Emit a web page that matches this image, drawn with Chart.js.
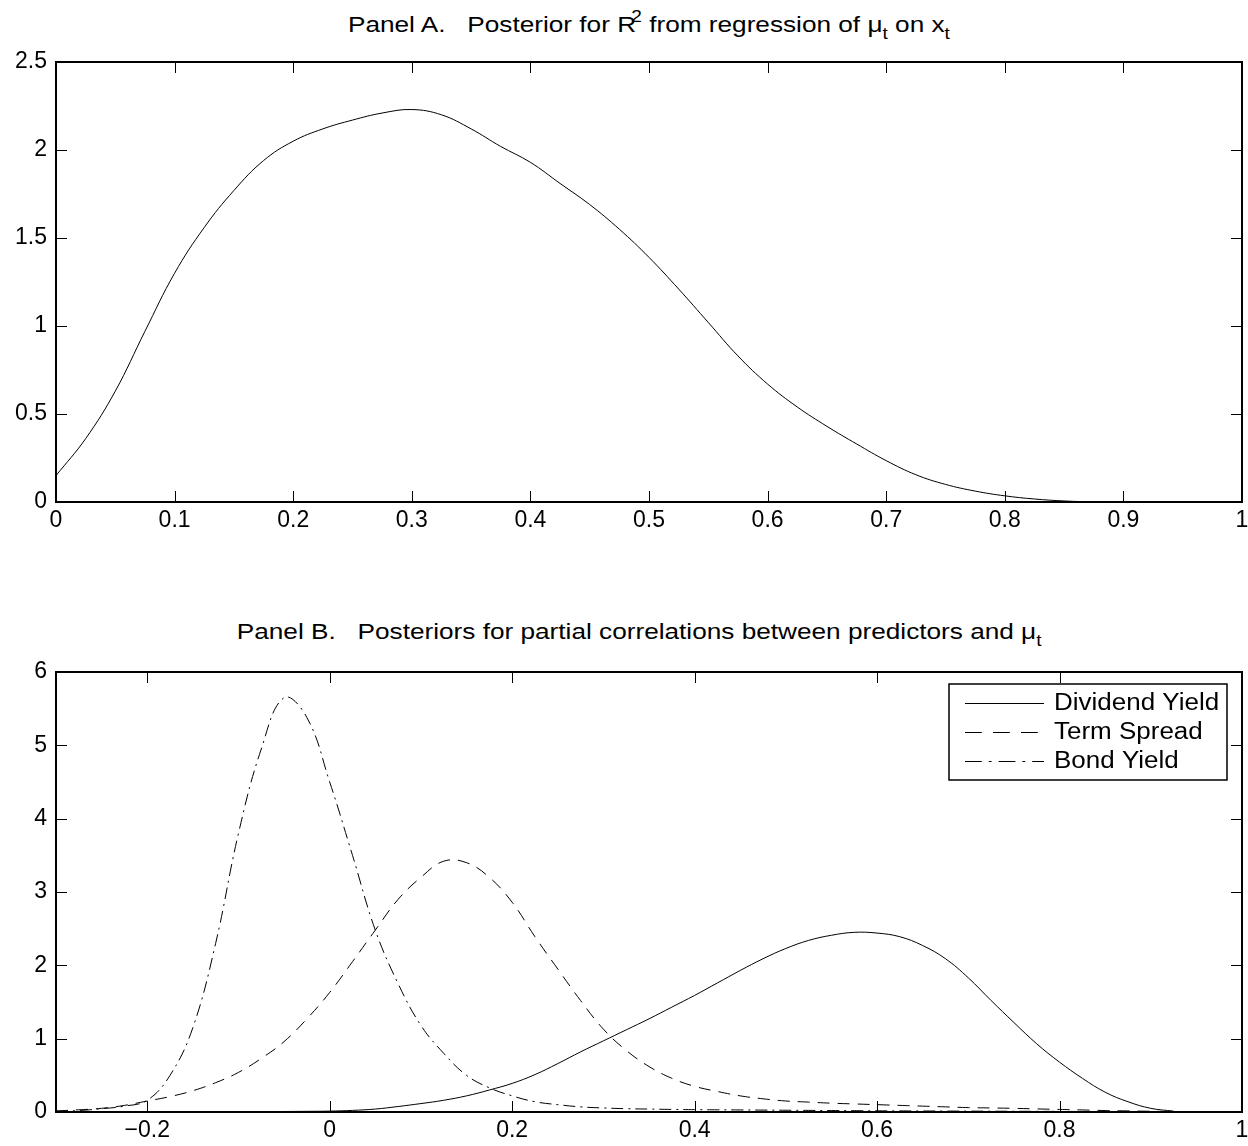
<!DOCTYPE html>
<html>
<head>
<meta charset="utf-8">
<script src="https://cdn.jsdelivr.net/npm/chart.js@4.4.1/dist/chart.umd.min.js"></script>
<style>
  body { margin:0; background:#fff; }
  #page { position:relative; width:1248px; height:1146px; font-family:"Liberation Sans", Arial, sans-serif; color:#000; }
  .title { position:absolute; left:56px; width:1186px; text-align:center; font-size:22px; line-height:22px; white-space:pre; }
  .title .inner { display:inline-block; transform:scaleX(1.19); }
  .title sup { font-size:16px; position:relative; top:-10px; vertical-align:baseline; margin-left:-4px; }
  .title sub { font-size:16px; position:relative; top:7px; vertical-align:baseline; }
  canvas { position:absolute; left:0; }
</style>
</head>
<body>
<div id="page">
  <div class="title" style="top:14px"><span class="inner">Panel A.   Posterior for R<sup>2</sup> from regression of μ<sub>t</sub> on x<sub>t</sub></span></div>
  <canvas id="chartA" width="1248" height="545" style="top:0"></canvas>
  <div class="title" style="top:621px; left:46px"><span class="inner">Panel B.   Posteriors for partial correlations between predictors and μ<sub>t</sub></span></div>
  <canvas id="chartB" width="1248" height="546" style="top:600px"></canvas>
</div>
<script>
// ---------------- Data ----------------
// Panel A: posterior density of R^2
const r2Grid = [0, 0.025, 0.05, 0.075, 0.1, 0.125, 0.15, 0.175, 0.2, 0.225, 0.25, 0.275,
  0.3, 0.325, 0.35, 0.375, 0.4, 0.425, 0.45, 0.475, 0.5, 0.525, 0.55, 0.575,
  0.6, 0.625, 0.65, 0.675, 0.7, 0.725, 0.75, 0.775, 0.8, 0.825, 0.85, 0.875];
const r2Density = [0.15, 0.36, 0.63, 0.97, 1.30, 1.56, 1.77, 1.94, 2.05, 2.12, 2.17, 2.21,
  2.23, 2.20, 2.12, 2.02, 1.93, 1.81, 1.69, 1.55, 1.39, 1.21, 1.02, 0.83,
  0.67, 0.54, 0.43, 0.33, 0.235, 0.155, 0.10, 0.062, 0.035, 0.017, 0.006, 0.0];

// Panel B: posteriors for partial correlations
const corrGrid = [-0.3, -0.275, -0.25, -0.225, -0.2, -0.175, -0.15, -0.125, -0.1, -0.075,
  -0.05, -0.025, 0, 0.025, 0.05, 0.075, 0.1, 0.125, 0.15, 0.175,
  0.2, 0.225, 0.25, 0.275, 0.3, 0.325, 0.35, 0.375, 0.4, 0.425,
  0.45, 0.475, 0.5, 0.525, 0.55, 0.575, 0.6, 0.625, 0.65, 0.675,
  0.7, 0.725, 0.75, 0.775, 0.8, 0.825, 0.85, 0.875, 0.9, 0.925];
const dividendYield = [0, 0, 0, 0.001, 0.001, 0.002, 0.002, 0.003, 0.004, 0.005,
  0.007, 0.009, 0.012, 0.022, 0.04, 0.075, 0.115, 0.16, 0.22, 0.30,
  0.39, 0.51, 0.66, 0.82, 0.97, 1.12, 1.27, 1.43, 1.59, 1.76,
  1.93, 2.09, 2.23, 2.34, 2.41, 2.45, 2.44, 2.39, 2.27, 2.09,
  1.83, 1.52, 1.22, 0.93, 0.68, 0.46, 0.27, 0.14, 0.05, 0.012];
const termSpread = [0.015, 0.03, 0.05, 0.09, 0.15, 0.21, 0.29, 0.40, 0.54, 0.73,
  0.96, 1.27, 1.63, 2.05, 2.48, 2.90, 3.20, 3.42, 3.40, 3.20,
  2.86, 2.39, 1.95, 1.52, 1.13, 0.84, 0.62, 0.46, 0.35, 0.28,
  0.22, 0.18, 0.15, 0.135, 0.12, 0.11, 0.10, 0.09, 0.08, 0.07,
  0.06, 0.055, 0.05, 0.042, 0.035, 0.028, 0.02, 0.015, 0.01, 0.005];
const bondYield = [0.01, 0.02, 0.045, 0.08, 0.16, 0.50, 1.15, 2.30, 3.80, 4.95,
  5.65, 5.38, 4.50, 3.50, 2.48, 1.75, 1.18, 0.80, 0.50, 0.33,
  0.22, 0.14, 0.10, 0.07, 0.055, 0.045, 0.04, 0.035, 0.032, 0.03,
  0.028, 0.026, 0.024, 0.022, 0.02, 0.018, 0.016, 0.015, 0.014, 0.013,
  0.012, 0.011, 0.01, 0.009, 0.008, 0.007, 0.006, 0.005, 0.004, 0.003];

// tick values
const xTicksA = [0, 0.1, 0.2, 0.3, 0.4, 0.5, 0.6, 0.7, 0.8, 0.9, 1];
const yTicksA = [0, 0.5, 1, 1.5, 2, 2.5];
const xTicksB = [-0.2, 0, 0.2, 0.4, 0.6, 0.8, 1];
const yTicksB = [0, 1, 2, 3, 4, 5, 6];

const FONT = '"Liberation Sans", Arial, sans-serif';
const TICK_LEN = 11;

const toPoints = (xs, ys) => xs.map((x, i) => ({ x: x, y: ys[i] }));
const fmt = v => v < 0 ? '\u2212' + Math.abs(v) : String(v);

// matlab style box with inward ticks on all four sides
const boxAxes = {
  id: 'boxAxes',
  afterDatasetsDraw(chart) {
    const { ctx, chartArea: a, scales: { x, y } } = chart;
    ctx.save();
    ctx.strokeStyle = '#000';
    ctx.lineWidth = 1;
    ctx.setLineDash([]);
    ctx.beginPath();
    x.ticks.forEach(t => {
      const px = Math.round(x.getPixelForValue(t.value)) + 0.5;
      ctx.moveTo(px, a.bottom); ctx.lineTo(px, a.bottom - TICK_LEN);
      ctx.moveTo(px, a.top); ctx.lineTo(px, a.top + TICK_LEN);
    });
    y.ticks.forEach(t => {
      const py = Math.round(y.getPixelForValue(t.value)) + 0.5;
      ctx.moveTo(a.left, py); ctx.lineTo(a.left + TICK_LEN, py);
      ctx.moveTo(a.right, py); ctx.lineTo(a.right - TICK_LEN, py);
    });
    ctx.stroke();
    ctx.lineWidth = 2;
    ctx.strokeRect(a.left, a.top, a.right - a.left, a.bottom - a.top);
    ctx.restore();
  }
};

// boxed legend in the upper right corner of panel B
const boxLegend = {
  id: 'boxLegend',
  afterDraw(chart) {
    const { ctx, chartArea: a } = chart;
    const w = 278, h = 96;
    const left = a.right - 15 - w, top = a.top + 12;
    ctx.save();
    ctx.fillStyle = '#fff';
    ctx.fillRect(left, top, w, h);
    ctx.strokeStyle = '#000';
    ctx.lineWidth = 1.5;
    ctx.setLineDash([]);
    ctx.strokeRect(left, top, w, h);
    ctx.font = '23px ' + FONT;
    ctx.textBaseline = 'middle';
    chart.data.datasets.forEach((ds, i) => {
      const cy = top + 19 + i * 29;
      ctx.lineWidth = 1;
      ctx.setLineDash((ds.borderDash || []).map(d => d * 1.4));
      ctx.beginPath();
      ctx.moveTo(left + 16, cy + 0.5);
      ctx.lineTo(left + 95, cy + 0.5);
      ctx.stroke();
      ctx.setLineDash([]);
      ctx.fillStyle = '#000';
      ctx.save();
      ctx.translate(left + 105, cy + 1);
      ctx.scale(1.13, 1);
      ctx.fillText(ds.label, 0, 0);
      ctx.restore();
    });
    ctx.restore();
  }
};

function makeOptions(xMin, xMax, yMin, yMax, xTicks, yTicks, padTop, bottomPx, canvasH) {
  return {
    responsive: false,
    animation: false,
    devicePixelRatio: 1,
    layout: { padding: { top: padTop, right: 6, left: 0, bottom: 0 } },
    plugins: { legend: { display: false }, tooltip: { enabled: false }, title: { display: false } },
    elements: { point: { radius: 0 }, line: { borderWidth: 1, borderColor: '#000', tension: 0.4 } },
    scales: {
      x: {
        type: 'linear', min: xMin, max: xMax,
        afterBuildTicks: s => { s.ticks = xTicks.map(v => ({ value: v })); },
        afterFit: s => { s.height = canvasH - bottomPx; s.paddingLeft = 0; s.paddingRight = 0; },
        grid: { display: false, drawTicks: false },
        border: { display: false },
        ticks: { color: '#000', font: { family: FONT, size: 23 }, padding: 5, maxRotation: 0, autoSkip: false, callback: fmt }
      },
      y: {
        type: 'linear', min: yMin, max: yMax,
        afterBuildTicks: s => { s.ticks = yTicks.map(v => ({ value: v })); },
        afterFit: s => { s.width = 56; s.paddingTop = 0; s.paddingBottom = 0; },
        grid: { display: false, drawTicks: false },
        border: { display: false },
        ticks: { color: '#000', font: { family: FONT, size: 23 }, padding: 9, autoSkip: false, callback: fmt }
      }
    }
  };
}

// ---------------- Panel A ----------------
new Chart(document.getElementById('chartA'), {
  type: 'line',
  data: {
    datasets: [
      { label: 'R2', data: toPoints(r2Grid, r2Density), borderColor: '#000', borderWidth: 1, fill: false }
    ]
  },
  options: makeOptions(0, 1, 0, 2.5, xTicksA, yTicksA, 62, 502, 545),
  plugins: [boxAxes]
});

// ---------------- Panel B ----------------
new Chart(document.getElementById('chartB'), {
  type: 'line',
  data: {
    datasets: [
      { label: 'Dividend Yield', data: toPoints(corrGrid, dividendYield), borderColor: '#000', borderWidth: 1, borderDash: [], fill: false },
      { label: 'Term Spread', data: toPoints(corrGrid, termSpread), borderColor: '#000', borderWidth: 1, borderDash: [12, 8], fill: false },
      { label: 'Bond Yield', data: toPoints(corrGrid, bondYield), borderColor: '#000', borderWidth: 1, borderDash: [12, 5, 2, 5], fill: false }
    ]
  },
  options: makeOptions(-0.3, 1, 0, 6, xTicksB, yTicksB, 72, 512, 546),
  plugins: [boxAxes, boxLegend]
});
</script>
</body>
</html>
